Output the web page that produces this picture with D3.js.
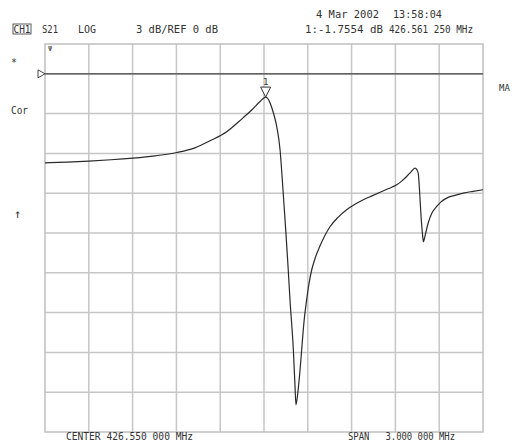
<!DOCTYPE html>
<html><head><meta charset="utf-8">
<script src="https://cdn.jsdelivr.net/npm/d3@7"></script>
<style>body{margin:0;background:#fff}svg{display:block}text{font-family:"DejaVu Sans Mono",monospace;fill:#333;white-space:pre}</style>
</head><body><svg id="c" width="515" height="447"></svg>
<script>
const freqMHz = [425.050,425.201,425.351,425.502,425.653,425.803,425.954,426.077,426.180,426.297,426.406,426.468,426.523,426.561,426.577,426.591,426.612,426.637,426.660,426.673,426.687,426.701,426.716,426.728,426.751,426.762,426.769,426.780,426.797,426.808,426.824,426.842,426.858,426.877,426.899,426.934,426.968,427.002,427.057,427.116,427.173,427.230,427.290,427.345,427.399,427.459,427.495,427.527,427.557,427.584,427.598,427.607,427.615,427.625,427.636,427.642,427.653,427.675,427.701,427.733,427.762,427.801,427.858,427.915,427.982,428.050];
const s21dB = [-6.71,-6.66,-6.58,-6.48,-6.35,-6.18,-5.93,-5.58,-5.05,-4.35,-3.32,-2.71,-2.09,-1.76,-1.88,-2.19,-2.86,-3.97,-5.73,-7.61,-9.87,-12.14,-14.77,-17.04,-20.80,-23.44,-24.95,-24.20,-22.31,-20.80,-18.69,-17.04,-15.83,-14.77,-13.94,-12.96,-12.17,-11.53,-10.82,-10.25,-9.84,-9.50,-9.20,-8.93,-8.67,-8.37,-8.07,-7.74,-7.39,-7.11,-7.24,-7.54,-8.74,-10.63,-12.14,-12.66,-12.21,-11.23,-10.48,-10.00,-9.65,-9.37,-9.16,-8.99,-8.86,-8.74];
const xTicks = [425.05,425.35,425.65,425.95,426.25,426.55,426.85,427.15,427.45,427.75,428.05];
const yTicks = [-24,-21,-18,-15,-12,-9,-6,-3,0];
const marker = {f:426.56125, v:-1.7554, label:"1"};
const headerTexts = ["S21","LOG","3 dB/REF 0 dB","1:-1.7554 dB","426.561 250 MHz"];

const svg = d3.select("#c");
const L=45,R=483,B=432,T=44;
const x = d3.scaleLinear().domain([425.05,428.05]).range([L,R]);
const y = d3.scaleLinear().domain([-27,3]).range([B,B-10*39.8]);

const g = svg.append("g");
g.selectAll(".vx").data(xTicks.slice(1,-1)).join("line")
 .attr("x1",d=>x(d)).attr("x2",d=>x(d)).attr("y1",T).attr("y2",B)
 .attr("stroke","#c6c6c6").attr("stroke-width",1.5);
g.selectAll(".hy").data(yTicks).join("line")
 .attr("x1",L).attr("x2",R).attr("y1",d=>y(d)).attr("y2",d=>y(d))
 .attr("stroke","#c6c6c6").attr("stroke-width",1.5);
g.append("rect").attr("x",L).attr("y",T).attr("width",R-L).attr("height",B-T)
 .attr("fill","none").attr("stroke","#c0c0c0").attr("stroke-width",1.5);
g.append("line").attr("x1",L).attr("x2",R).attr("y1",y(0)).attr("y2",y(0))
 .attr("stroke","#444").attr("stroke-width",1.3);
g.append("path").attr("d",`M${L-7},${y(0)-4}L${L},${y(0)}L${L-7},${y(0)+4}Z`)
 .attr("fill","#fff").attr("stroke","#444").attr("stroke-width",1);

const pts = freqMHz.map((f,i)=>[f,s21dB[i]]);
g.append("path").datum(pts)
 .attr("d",d3.line().x(d=>x(d[0])).y(d=>y(d[1])).curve(d3.curveMonotoneX))
 .attr("fill","none").attr("stroke","#2a2a2a").attr("stroke-width",1.2);

const mx=x(marker.f), my=y(marker.v);
g.append("path").attr("d",`M${mx},${my}L${mx-5},${my-10}L${mx+5},${my-10}Z`)
 .attr("fill","#fff").attr("stroke","#333").attr("stroke-width",1);
g.append("text").attr("x",mx).attr("y",my-12).attr("text-anchor","middle")
 .attr("font-size",9).text(marker.label);

const fs=10;
function txt(s,x0,y0,w){const t=svg.append("text").attr("x",x0).attr("y",y0).attr("font-size",fs).attr("xml:space","preserve").text(s);
 if(w) t.attr("textLength",w).attr("lengthAdjust","spacingAndGlyphs");return t;}
txt("4 Mar 2002",316,18,63);
txt("13:58:04",393,18,49);
svg.append("rect").attr("x",13).attr("y",24).attr("width",18).attr("height",10).attr("fill","none").attr("stroke","#333").attr("stroke-width",0.8);
txt("CH1",13.5,32.5,17);
txt(headerTexts[0],42,32.5,16);
txt(headerTexts[1],78,32.5,18);
txt(headerTexts[2],136,32.5,82);
txt(headerTexts[3],305,32.5,78);
txt(headerTexts[4],389,32.5,84);
txt("CENTER 426.550 000 MHz",66,440,127);
txt("SPAN   3.000 000 MHz",348,440,107);
txt("*",11,66);
txt("Cor",11,114,17);
txt("↑",14,218).attr("font-size",12);
txt("Ψ",48,51).attr("font-size",7);
txt("MA",499,91).attr("font-size",9);
</script></body></html>
